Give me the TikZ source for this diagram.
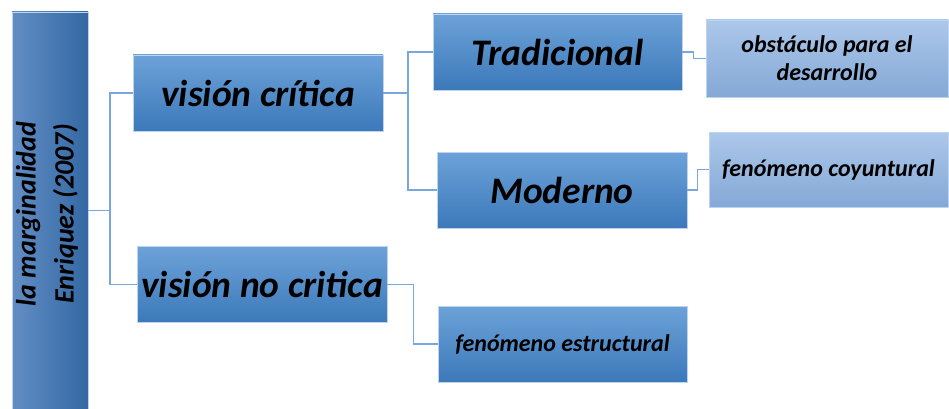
\documentclass[tikz,border=0pt]{standalone}
\usepackage{fontspec}
\setmainfont{Carlito}
\definecolor{boxtop}{RGB}{108,162,216}
\definecolor{boxbot}{RGB}{60,121,186}
\definecolor{roota}{RGB}{98,142,196}
\definecolor{rootb}{RGB}{52,104,164}
\definecolor{lighttop}{RGB}{172,200,234}
\definecolor{lightbot}{RGB}{132,168,214}
\definecolor{linec}{RGB}{120,166,222}
\definecolor{edgec}{RGB}{190,212,238}
\begin{document}
\begin{tikzpicture}[x=1pt,y=-1pt,
  base/.style={draw=edgec,line width=0.6pt,inner sep=1pt,align=center,text=black,font=\bfseries\itshape},
  mainbox/.style={base,top color=boxtop,bottom color=boxbot,minimum width=250pt,minimum height=76pt},
  leafbox/.style={base,top color=lighttop,bottom color=lightbot,minimum width=240pt,minimum height=76pt},
  bigtxt/.style={font=\fontsize{37.5}{40}\selectfont\bfseries\itshape},
  smalltxt/.style={font=\fontsize{24}{28}\selectfont\bfseries\itshape},
  conn/.style={draw=linec,line width=1.6pt}]
\useasboundingbox (0,0) rectangle (949,409);
\node[base,left color=roota,right color=rootb,minimum width=76pt,minimum height=397pt] (root) at (50,210.5) {};
\node[rotate=90,align=center,font=\fontsize{28}{38}\selectfont\bfseries\itshape] (roottxt) at (47,214) {la marginalidad\\Enriquez (2007)};
\node[mainbox,bigtxt] (vc) at (258,93) {visión crítica};
\node[mainbox,bigtxt] (vnc) at (262,284.5) {visión no critica};
\node[mainbox,bigtxt,minimum width=249pt] (trad) at (557.5,52) {Tradicional};
\node[mainbox,bigtxt] (mod) at (562,190) {Moderno};
\node[leafbox,smalltxt,minimum width=242pt,minimum height=77pt] (obs) at (827,58.5) {obstáculo para el\\desarrollo};
\node[leafbox,smalltxt,minimum width=239pt,minimum height=75pt] (coy) at (828.5,169.5) {fenómeno coyuntural};
\node[mainbox,smalltxt,minimum width=249pt] (est) at (562.5,344) {fenómeno estructural};
\coordinate (j1) at (110,210.5);
\coordinate (j2) at (408,93);
\draw[conn] (root.east) -- (j1);
\draw[conn] (j1) |- (vc.west);
\draw[conn] (j1) |- (vnc.west);
\draw[conn] (vc.east) -- (j2);
\draw[conn] (j2) |- (trad.west);
\draw[conn] (j2) |- (mod.west);
\draw[conn] (trad.east) -- ++(11,0) |- (obs.west);
\draw[conn] (mod.east) -- ++(10,0) |- (coy.west);
\draw[conn] (vnc.east) -- ++(26,0) |- (est.west);
\end{tikzpicture}
\end{document}
